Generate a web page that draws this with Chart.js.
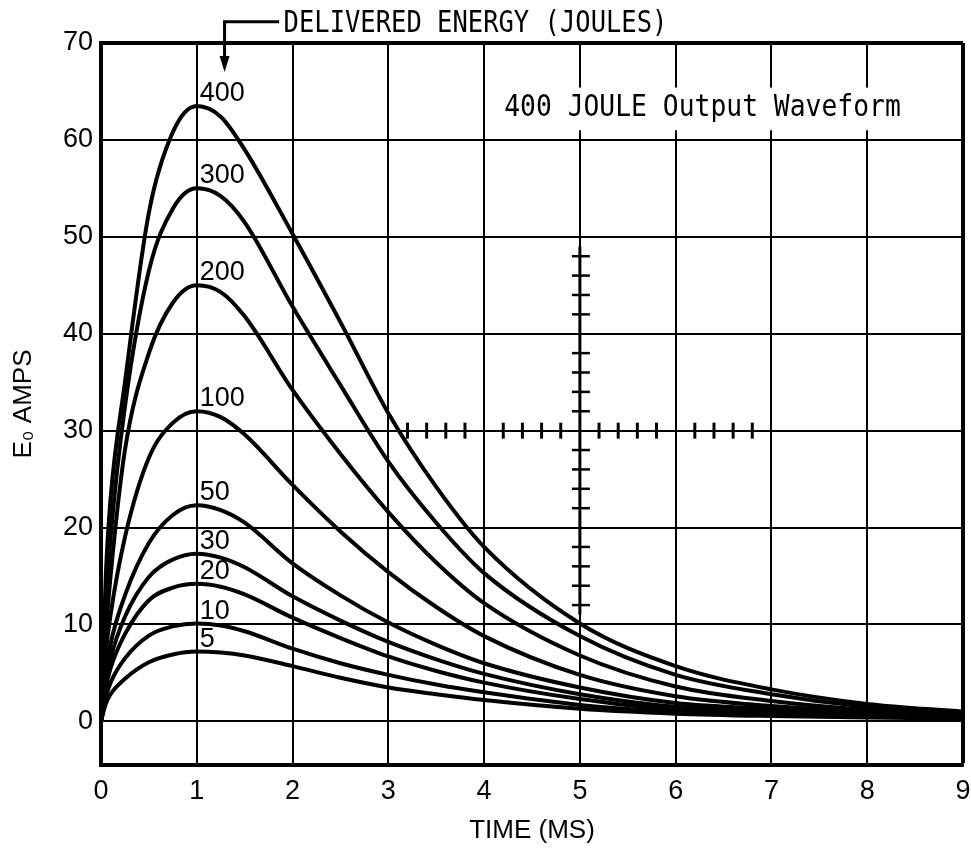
<!DOCTYPE html>
<html>
<head>
<meta charset="utf-8">
<title>400 JOULE Output Waveform</title>
<script src="https://cdn.jsdelivr.net/npm/chart.js"></script>
<style>
  html, body { margin: 0; padding: 0; background: #fff; }
  #wrap { position: relative; width: 971px; height: 848px; }
</style>
</head>
<body>
<div id="wrap"><canvas id="waveChart"></canvas></div>
<script>
// time axis (ms) shared by every curve
const timeMs = [0, 0.05, 0.1, 0.25, 0.5, 0.75, 1, 1.25, 1.5, 2, 2.5, 3, 3.5, 4, 5, 6, 7, 8, 9];

// delivered energy (joules) for each curve, top to bottom
const energies = ['400', '300', '200', '100', '50', '30', '20', '10', '5'];

// output current (amps)
const amps400 = [0, 15, 23, 35, 52.5, 60.8, 63.5, 62.4, 59, 50.3, 41.2, 31.8, 24.2, 18, 10.1, 5.7, 3.3, 1.8, 1.0];
const amps300 = [0, 12, 19, 32.5, 46.5, 52.9, 55, 54.2, 51.5, 42.8, 34.7, 26.8, 20.5, 15.3, 8.8, 4.8, 2.8, 1.5, 0.9];
const amps200 = [0, 9, 15, 28, 38, 43.2, 45, 44.3, 41.8, 34.2, 27.6, 21.6, 16.4, 12.2, 6.8, 3.6, 2.1, 1.2, 0.8];
const amps100 = [0, 7, 11, 19, 27.2, 30.8, 32, 31.4, 29.6, 24.4, 19.6, 15.4, 11.8, 8.8, 4.8, 2.6, 1.6, 1.0, 0.7];
const amps50 = [0, 5, 8, 13, 18.4, 21.3, 22.3, 21.8, 20.5, 16.3, 13.0, 10.2, 7.9, 6.0, 3.5, 1.9, 1.3, 0.9, 0.6];
const amps30 = [0, 4, 6.5, 10.8, 14.9, 16.7, 17.3, 16.9, 15.9, 12.9, 10.4, 8.2, 6.4, 4.9, 2.8, 1.5, 1.1, 0.75, 0.5];
const amps20 = [0, 3.5, 5.5, 9.0, 12.5, 13.8, 14.2, 13.9, 13.1, 10.7, 8.6, 6.7, 5.2, 4.0, 2.3, 1.2, 0.9, 0.6, 0.4];
const amps10 = [0, 2.5, 4, 6.5, 8.85, 9.8, 10.1, 9.9, 9.3, 7.5, 6.0, 4.8, 3.8, 3.0, 1.7, 1.0, 0.7, 0.5, 0.35];
const amps5 = [0, 1.8, 2.8, 4.4, 6.1, 6.9, 7.2, 7.1, 6.8, 5.7, 4.5, 3.5, 2.8, 2.2, 1.3, 0.8, 0.55, 0.4, 0.3];

const allAmps = [amps400, amps300, amps200, amps100, amps50, amps30, amps20, amps10, amps5];

// axis ticks
const xTickValues = [0, 1, 2, 3, 4, 5, 6, 7, 8, 9];
const yTickValues = [0, 10, 20, 30, 40, 50, 60, 70];

// graticule marks of the scope crosshair
const crossTicksX = [3.2, 3.4, 3.6, 3.8, 4.2, 4.4, 4.6, 4.8, 5.2, 5.4, 5.6, 5.8, 6.2, 6.4, 6.6, 6.8];
const crossTicksY = [12, 14, 16, 18, 22, 24, 26, 28, 32, 34, 36, 38, 42, 44, 46, 48];

const chartTitle = '400 JOULE Output Waveform';
const energyNote = 'DELIVERED ENERGY (JOULES)';

const sansFont = "'Liberation Sans', Arial, sans-serif";
const monoFont = "'DejaVu Sans Mono', monospace";

function drawNarrowText(ctx, text, x, y, size, squeeze) {
  ctx.save();
  ctx.translate(x, y);
  ctx.scale(squeeze, 1);
  ctx.font = size + 'px ' + monoFont;
  ctx.textAlign = 'center';
  ctx.textBaseline = 'middle';
  ctx.fillStyle = '#000';
  ctx.fillText(text, 0, 0);
  ctx.restore();
}

const scopePlugin = {
  id: 'scopeDecor',
  beforeDatasetsDraw(chart) {
    const ctx = chart.ctx;
    const xs = chart.scales.x;
    const ys = chart.scales.y;
    ctx.save();
    ctx.strokeStyle = '#000';
    ctx.lineCap = 'butt';

    // crosshair centre line (vertical) at 5 ms
    const cx = xs.getPixelForValue(5);
    ctx.lineWidth = 3;
    ctx.beginPath();
    ctx.moveTo(cx, ys.getPixelForValue(11));
    ctx.lineTo(cx, ys.getPixelForValue(49));
    ctx.stroke();

    ctx.lineWidth = 2.5;
    crossTicksY.forEach((v) => {
      const py = ys.getPixelForValue(v);
      ctx.beginPath();
      ctx.moveTo(cx - 8, py);
      ctx.lineTo(cx + 10, py);
      ctx.stroke();
    });
    const cy = ys.getPixelForValue(30);
    ctx.lineWidth = 3;
    crossTicksX.forEach((v) => {
      const px = xs.getPixelForValue(v);
      ctx.beginPath();
      ctx.moveTo(px, cy - 8);
      ctx.lineTo(px, cy + 8);
      ctx.stroke();
    });

    // title box over the grid
    const boxL = xs.getPixelForValue(4.15);
    const boxR = xs.getPixelForValue(8.45);
    const boxT = ys.getPixelForValue(65.4);
    const boxB = ys.getPixelForValue(61.0);
    ctx.fillStyle = '#fff';
    ctx.fillRect(boxL, boxT, boxR - boxL, boxB - boxT);
    drawNarrowText(ctx, chartTitle, xs.getPixelForValue(6.28), ys.getPixelForValue(63.3), 31, 0.85);

    // energy labels above each peak
    ctx.font = '27px ' + sansFont;
    ctx.textAlign = 'left';
    ctx.textBaseline = 'alphabetic';
    ctx.fillStyle = '#000';
    energies.forEach((label, i) => {
      const peak = Math.max(...allAmps[i]);
      ctx.fillText(label, xs.getPixelForValue(1) + 3, ys.getPixelForValue(peak) - 5);
    });
    ctx.restore();
  },
  afterDraw(chart) {
    const ctx = chart.ctx;
    const xs = chart.scales.x;
    const ys = chart.scales.y;
    ctx.save();
    // "delivered energy" note with leader arrow
    drawNarrowText(ctx, energyNote, xs.getPixelForValue(3.91), ys.getPixelForValue(71.9), 30, 0.85);
    const ax = xs.getPixelForValue(1.29);
    const ay = ys.getPixelForValue(72.2);
    const tipY = ys.getPixelForValue(67.0);
    ctx.strokeStyle = '#000';
    ctx.lineWidth = 3;
    ctx.beginPath();
    ctx.moveTo(xs.getPixelForValue(1.86), ay);
    ctx.lineTo(ax, ay);
    ctx.lineTo(ax, tipY - 12);
    ctx.stroke();
    ctx.fillStyle = '#000';
    ctx.beginPath();
    ctx.moveTo(ax - 5, tipY - 16);
    ctx.lineTo(ax + 5, tipY - 16);
    ctx.lineTo(ax, tipY);
    ctx.closePath();
    ctx.fill();
    ctx.restore();
  },
};

function buildDatasets() {
  return energies.map((label, i) => ({
    label: label + ' J',
    data: timeMs.map((t, j) => ({ x: t, y: allAmps[i][j] })),
    borderColor: '#000',
    borderWidth: 4,
    pointRadius: 0,
    fill: false,
    cubicInterpolationMode: 'monotone',
  }));
}

document.addEventListener('DOMContentLoaded', function () {
  const context = document.getElementById('waveChart').getContext('2d');
  new Chart(context, {
    type: 'line',
    data: { datasets: buildDatasets() },
    options: {
      responsive: true,
      maintainAspectRatio: false,
      animation: false,
      events: [],
      layout: { padding: { top: 43, right: 8, left: 0, bottom: 0 } },
      plugins: {
        legend: { display: false },
        tooltip: { enabled: false },
      },
      scales: {
        x: {
          type: 'linear',
          min: 0,
          max: 9,
          afterBuildTicks: (scale) => {
            scale.ticks = xTickValues.map((v) => ({ value: v }));
          },
          afterFit: (scale) => {
            scale.height = 83;
            scale.paddingLeft = 0;
            scale.paddingRight = 0;
          },
          grid: {
            color: '#000',
            lineWidth: (c) => (c.tick && c.tick.value === 9 ? 4 : 2),
            drawTicks: false,
          },
          border: { color: '#000', width: 4 },
          ticks: {
            color: '#000',
            font: { family: sansFont, size: 27 },
            padding: 10,
            maxRotation: 0,
          },
          title: {
            display: true,
            text: 'TIME (MS)',
            color: '#000',
            font: { family: sansFont, size: 26 },
            padding: { top: 0, bottom: 2 },
          },
        },
        y: {
          type: 'linear',
          min: -4.5,
          max: 70,
          afterBuildTicks: (scale) => {
            scale.ticks = yTickValues.map((v) => ({ value: v }));
          },
          afterFit: (scale) => {
            scale.width = 101;
            scale.paddingTop = 0;
            scale.paddingBottom = 0;
          },
          grid: {
            color: '#000',
            lineWidth: (c) => (c.tick && c.tick.value === 70 ? 4 : 2),
            drawTicks: false,
          },
          border: { color: '#000', width: 4 },
          ticks: {
            color: '#000',
            font: { family: sansFont, size: 27 },
            padding: 8,
          },
          title: {
            display: true,
            text: 'E₀ AMPS',
            color: '#000',
            font: { family: sansFont, size: 26 },
            padding: { top: 8, bottom: 0 },
          },
        },
      },
    },
    plugins: [scopePlugin],
  });
});
</script>
</body>
</html>
